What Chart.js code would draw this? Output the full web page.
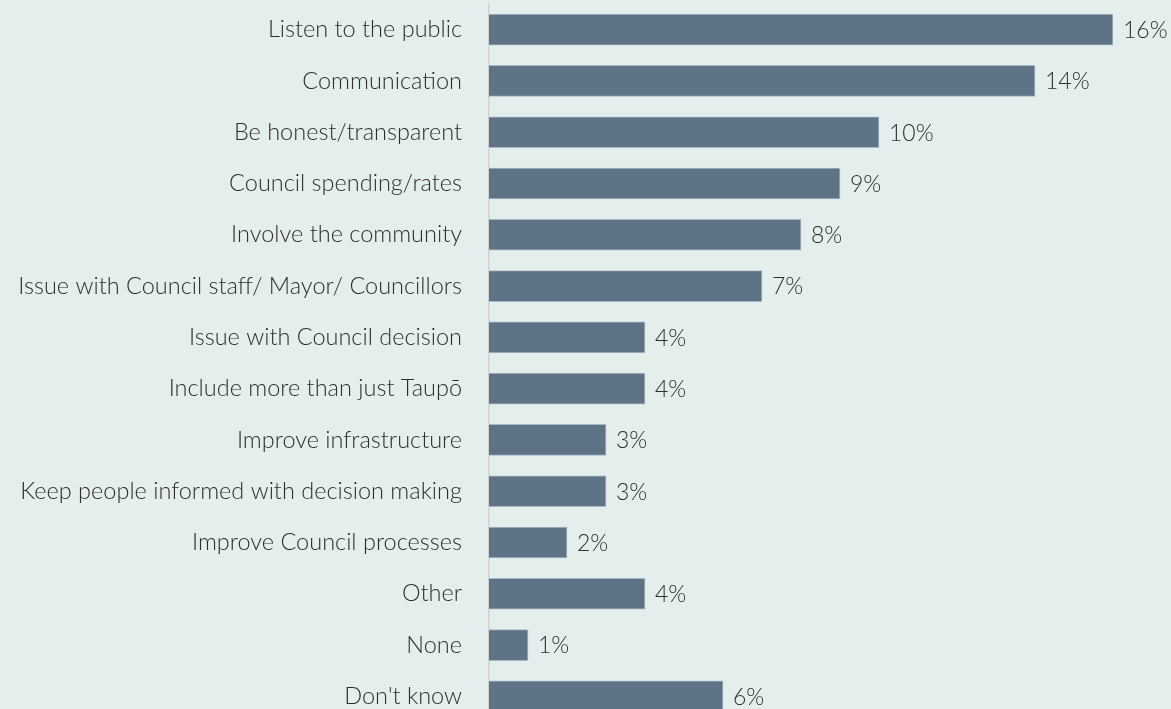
<!DOCTYPE html>
<html>
<head>
<meta charset="utf-8">
<script src="https://cdn.jsdelivr.net/npm/chart.js@4"></script>
<style>
    html, body {
        margin: 0;
        padding: 0;
        overflow: hidden;
        background: #e4eeec;
    }
    #suggestionsChart {
        display: block;
    }
</style>
</head>
<body>
<canvas id="suggestionsChart" width="1171" height="722"></canvas>
<script>
// Suggestions for Council, share of respondents (%)
const categories = [
    'Listen to the public',
    'Communication',
    'Be honest/transparent',
    'Council spending/rates',
    'Involve the community',
    'Issue with Council staff/ Mayor/ Councillors',
    'Issue with Council decision',
    'Include more than just Taupō',
    'Improve infrastructure',
    'Keep people informed with decision making',
    'Improve Council processes',
    'Other',
    'None',
    "Don't know"
];
const percentages = [16, 14, 10, 9, 8, 7, 4, 4, 3, 3, 2, 4, 1, 6];

const FONT = "'Lato', 'Open Sans', sans-serif";
const TEXT_COLOR = '#2e2e2e';

// Draw the "n%" label just past the end of each bar
const valueLabels = {
    id: 'valueLabels',
    afterDatasetsDraw(chart) {
        const ctx = chart.ctx;
        const meta = chart.getDatasetMeta(0);
        ctx.save();
        ctx.font = '300 23px ' + FONT;
        ctx.fillStyle = TEXT_COLOR;
        ctx.textAlign = 'left';
        ctx.textBaseline = 'middle';
        meta.data.forEach((bar, i) => {
            ctx.fillText(percentages[i] + '%', bar.x + 10, bar.y + 1);
        });
        ctx.restore();
    }
};

new Chart(document.getElementById('suggestionsChart'), {
    type: 'bar',
    data: {
        labels: categories,
        datasets: [{
            data: percentages,
            backgroundColor: '#5f7387',
            borderColor: '#a7b8c7',
            borderWidth: 1,
            borderSkipped: 'start',
            barThickness: 31
        }]
    },
    options: {
        indexAxis: 'y',
        responsive: false,
        animation: false,
        layout: {
            padding: { top: 4, right: 58, bottom: 0, left: 0 }
        },
        plugins: {
            legend: { display: false },
            tooltip: { enabled: false }
        },
        scales: {
            x: {
                display: false,
                min: 0,
                max: 16
            },
            y: {
                afterFit(scale) {
                    // fixed gutter for the labels, no extra label padding above/below
                    scale.width = 489;
                    scale.paddingTop = 0;
                    scale.paddingBottom = 0;
                },
                grid: { display: false, drawTicks: false },
                border: { display: true, color: '#d4d1d1', width: 1.5 },
                ticks: {
                    padding: 27,
                    color: TEXT_COLOR,
                    font: { family: FONT, size: 23.5, weight: '300' }
                }
            }
        }
    },
    plugins: [valueLabels]
});
</script>
</body>
</html>
